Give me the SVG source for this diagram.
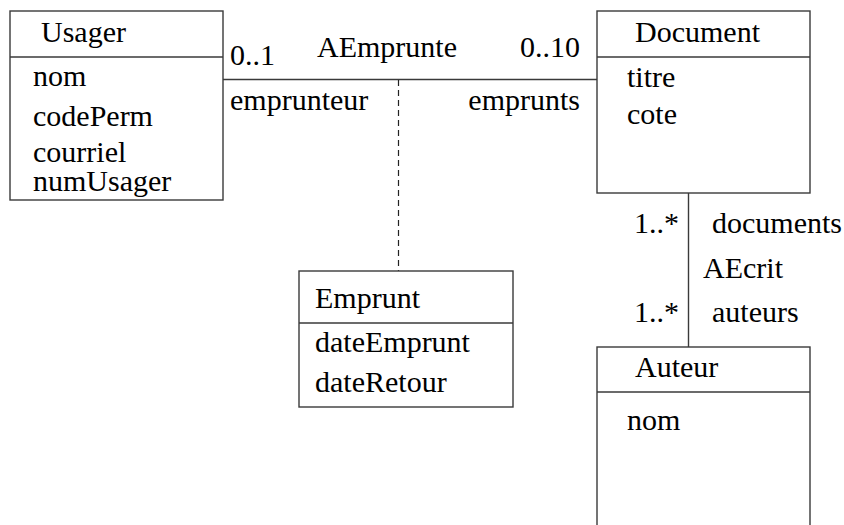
<svg xmlns="http://www.w3.org/2000/svg" width="844" height="525" viewBox="0 0 844 525">
<style>
.box{fill:#fff;stroke:#3a3a3a;stroke-width:1.4}
.ln{stroke:#3a3a3a;stroke-width:1.4;fill:none}
.dash{stroke:#222;stroke-width:1.2;stroke-dasharray:6 4;fill:none}
.e{text-anchor:end}
</style>
<rect width="844" height="525" fill="#fff"/>
<g font-family="'Liberation Serif', 'Times New Roman', 'DejaVu Serif', serif" font-size="30" fill="#000">
<g id="connectors">
<line class="ln" x1="223" y1="79.5" x2="597" y2="79.5"/>
<line class="dash" x1="398.5" y1="80" x2="398.5" y2="271"/>
<line class="ln" x1="688.5" y1="193" x2="688.5" y2="347"/>
<text x="230" y="65">0..1</text>
<text x="317" y="57">AEmprunte</text>
<text class="e" x="580" y="57">0..10</text>
<text x="230" y="110">emprunteur</text>
<text class="e" x="580" y="110">emprunts</text>
<text class="e" x="679" y="233">1..*</text>
<text x="712" y="233">documents</text>
<text x="703" y="278">AEcrit</text>
<text class="e" x="679" y="322">1..*</text>
<text x="712" y="322">auteurs</text>
</g>
<g id="usager">
<rect class="box" x="10" y="11" width="213" height="189"/>
<line class="ln" x1="10" y1="57" x2="223" y2="57"/>
<text x="41" y="42">Usager</text>
<text x="33" y="86">nom</text>
<text x="33" y="126">codePerm</text>
<text x="33" y="162">courriel</text>
<text x="33" y="191">numUsager</text>
</g>
<g id="document">
<rect class="box" x="597" y="11" width="213" height="182"/>
<line class="ln" x1="597" y1="57" x2="810" y2="57"/>
<text x="635" y="42">Document</text>
<text x="627" y="87">titre</text>
<text x="627" y="124">cote</text>
</g>
<g id="emprunt">
<rect class="box" x="299" y="271" width="214" height="136"/>
<line class="ln" x1="299" y1="323" x2="513" y2="323"/>
<text x="315" y="308">Emprunt</text>
<text x="315" y="352">dateEmprunt</text>
<text x="315" y="392">dateRetour</text>
</g>
<g id="auteur">
<rect class="box" x="597" y="347" width="213" height="200"/>
<line class="ln" x1="597" y1="392" x2="810" y2="392"/>
<text x="635" y="377">Auteur</text>
<text x="627" y="430">nom</text>
</g>
</g>
</svg>
